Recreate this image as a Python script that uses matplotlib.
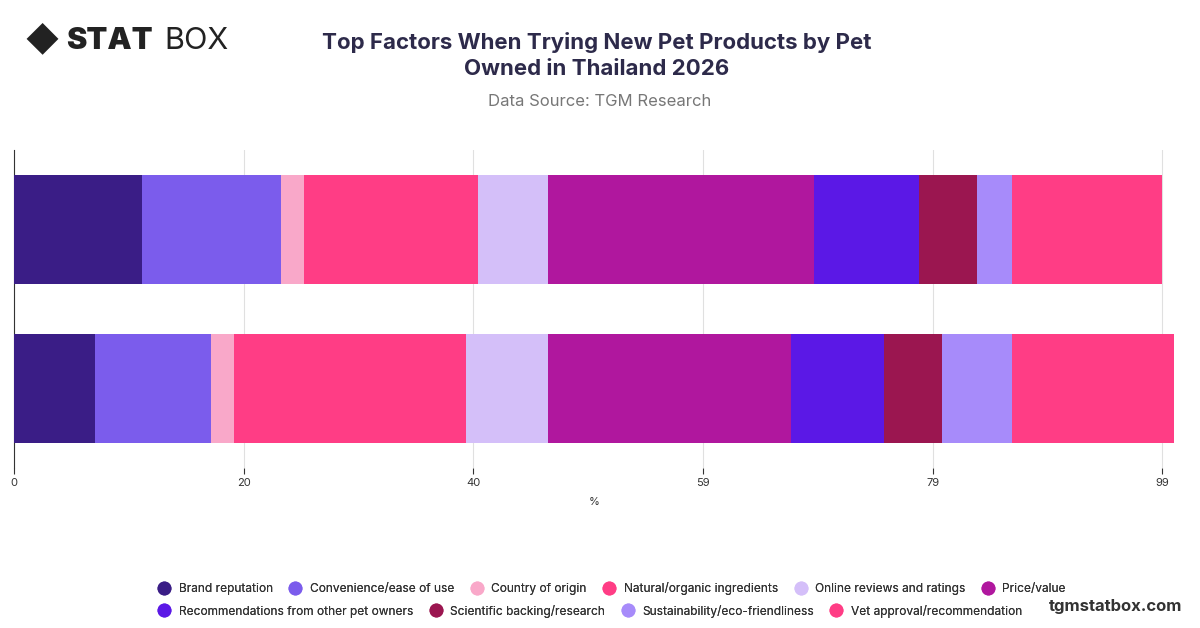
import matplotlib.pyplot as plt
import numpy as np

plt.rcParams['font.family'] = ['Inter', 'DejaVu Sans']

pets = ['Cat', 'Dog']
factors = ['Brand reputation', 'Convenience/ease of use', 'Country of origin',
           'Natural/organic ingredients', 'Online reviews and ratings', 'Price/value',
           'Recommendations from other pet owners', 'Scientific backing/research',
           'Sustainability/eco-friendliness', 'Vet approval/recommendation']
values = {
    'Cat': [11, 12, 2, 15, 6, 23, 9, 5, 3, 13],
    'Dog': [7, 10, 2, 20, 7, 21, 8, 5, 6, 14],
}
colors = ['#3a1d86', '#7b5cec', '#f9a8c9', '#ff3d85', '#d4bff9', '#b0179e',
          '#5b18e6', '#9b1650', '#a78bfa', '#ff3d85']
ticks = [0, 19.8, 39.6, 59.4, 79.2, 99]

fig = plt.figure(figsize=(12, 6.28), dpi=100)
ax = fig.add_axes([14/1200, 1 - 468/628, 1160/1200, 318/628])

ypos = np.arange(len(pets))[::-1]
for i, pet in enumerate(pets):
    left = 0
    for v, c in zip(values[pet], colors):
        ax.barh(ypos[i], v, left=left, height=0.69, color=c, zorder=3)
        left += v

ax.set_xlim(0, 100)
ax.set_ylim(-0.5, 1.5)
ax.set_xticks(ticks)
ax.set_xticklabels([f'{t:.0f}' for t in ticks], fontsize=8, color='#333333')
ax.set_yticks([])
ax.grid(axis='x', color='#e0e0e0', lw=0.8, zorder=0)
for s in ['top', 'right', 'bottom']:
    ax.spines[s].set_visible(False)
ax.spines['left'].set_color('#333333')
ax.tick_params(axis='x', length=4, color='#333333')
ax.set_xlabel('%', fontsize=8, color='#333333', labelpad=6)

fig.text(0.497, 0.912, 'Top Factors When Trying New Pet Products by Pet\nOwned in Thailand 2026',
         ha='center', va='center', fontsize=16, fontweight='bold', color='#2d2a4a', linespacing=1.35)
fig.text(0.5, 0.838, 'Data Source: TGM Research', ha='center', va='center',
         fontsize=12, color='#777777')
fig.text(0.055, 0.935, 'STAT', ha='left', va='center', fontsize=22, fontweight='black', color='#222222')
fig.text(0.137, 0.935, 'BOX', ha='left', va='center', fontsize=22, color='#222222')
fig.text(0.035, 0.935, '\u25C6', ha='center', va='center', fontsize=24, color='#222222')
fig.text(0.985, 0.034, 'tgmstatbox.com', ha='right', va='center', fontsize=12,
         fontweight='bold', color='#333333')

handles = [plt.Line2D([], [], marker='o', ls='', markersize=9, color=c) for c in colors]
for rows, y in [(range(0, 6), 0.063), (range(6, 10), 0.027)]:
    leg = fig.legend([handles[k] for k in rows], [factors[k] for k in rows],
                     loc='center left', bbox_to_anchor=(0.122, y), ncol=len(rows),
                     frameon=False, fontsize=8.6, handletextpad=0.2, columnspacing=0.9,
                     labelcolor='#333333', borderpad=0)
    fig.add_artist(leg)

fig.savefig('out.png', dpi=100)
